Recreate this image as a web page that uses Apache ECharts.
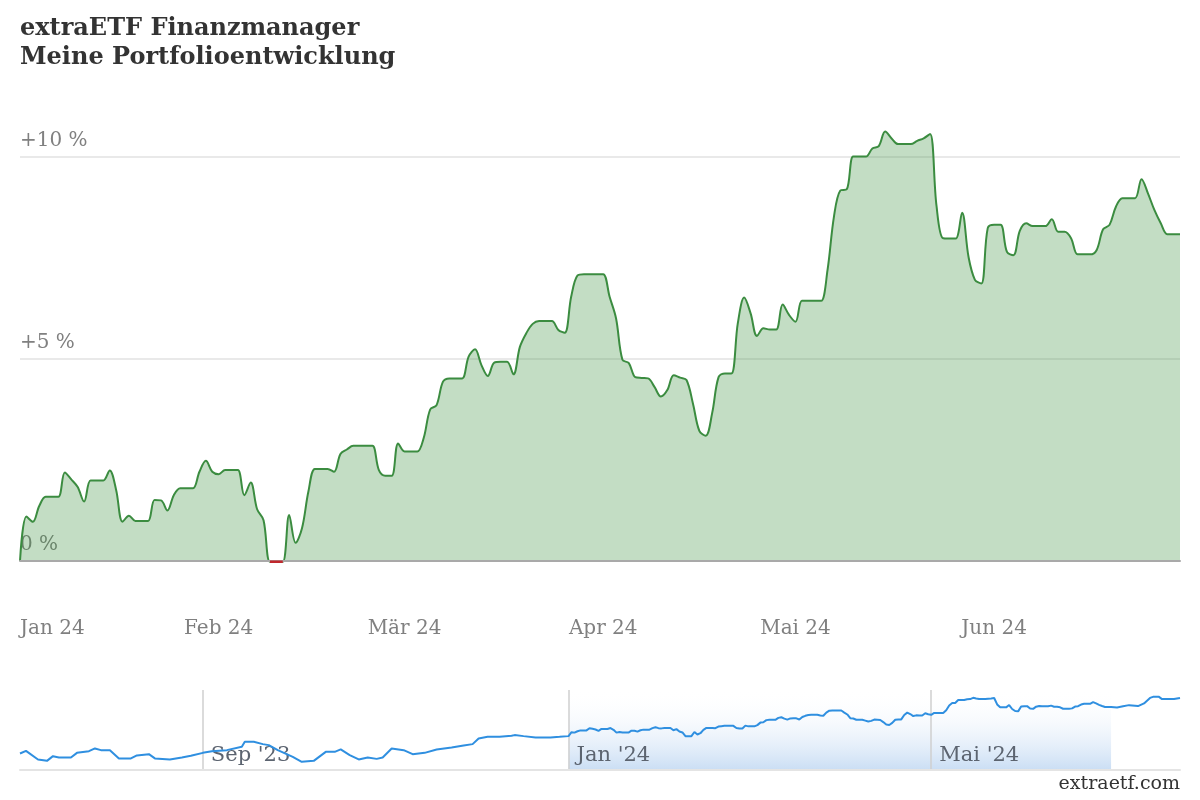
<!DOCTYPE html>
<html>
<head>
<meta charset="utf-8">
<script src="https://cdn.jsdelivr.net/npm/echarts@6/dist/echarts.min.js"></script>
<style>html,body{margin:0;padding:0;background:#fff}#c{width:1200px;height:800px}</style>
</head>
<body>
<div id="c"></div>
<script>
// ---- Main chart: daily performance in % (Jan 1 – Jun 30, 2024) ----
const jan = [0,1.10,0.97,1.36,1.59,1.59,1.59,2.19,2.02,1.83,1.47,1.99,1.99,1.99,2.24,1.76,0.97,1.12,0.99,0.99,0.99,1.51,1.50,1.25,1.63,1.80,1.80,1.80,2.21,2.48,2.21];
const feb = [2.15,2.25,2.25,2.25,1.63,1.94,1.28,1.01,-0.02,-0.02,-0.02,1.14,0.45,0.81,1.72,2.28,2.28,2.28,2.21,2.65,2.76,2.85,2.85,2.85,2.85,2.25,2.11,2.11,2.91];
const mar = [2.71,2.71,2.71,3.05,3.75,3.86,4.44,4.52,4.52,4.52,5.06,5.24,4.85,4.58,4.91,4.93,4.93,4.62,5.30,5.64,5.87,5.94,5.94,5.94,5.72,5.65,6.54,7.07,7.10,7.10,7.10];
const apr = [7.10,6.54,6.01,4.98,4.90,4.55,4.53,4.52,4.31,4.07,4.23,4.60,4.54,4.48,3.90,3.22,3.10,3.66,4.55,4.64,4.64,5.88,6.52,6.13,5.57,5.76,5.73,5.73,6.35,6.09];
const may = [5.92,6.44,6.44,6.44,6.44,7.20,8.52,9.17,9.20,10.01,10.01,10.01,10.21,10.27,10.63,10.46,10.32,10.32,10.32,10.40,10.46,10.57,8.80,7.99,7.98,7.98,8.62,7.53,6.96,6.87,8.24];
const jun = [8.32,8.32,7.65,7.57,8.17,8.36,8.29,8.29,8.29,8.46,8.15,8.15,7.99,7.59,7.59,7.59,7.70,8.21,8.32,8.77,8.98,8.98,8.98,9.45,9.10,8.69,8.36,8.09,8.09,8.09];
const monthValues = [jan, feb, mar, apr, may, jun];

const xTickDates  = ['2024-01-01','2024-02-01','2024-03-01','2024-04-01','2024-05-01','2024-06-01'];
const xTickLabels = ['Jan 24','Feb 24','Mär 24','Apr 24','Mai 24','Jun 24'];
const yTickValues = [0, 5, 10];
const yTickLabels = ['0 %', '+5 %', '+10 %'];

// ---- Navigator: longer history (before and after the selected range) ----
const navPreDates = ['2023-07-02','2023-07-04','2023-07-08','2023-07-11','2023-07-13','2023-07-15','2023-07-19','2023-07-21','2023-07-25','2023-07-27','2023-07-29','2023-08-01','2023-08-04','2023-08-08','2023-08-10','2023-08-14','2023-08-16','2023-08-21','2023-08-25','2023-08-28','2023-09-01','2023-09-04','2023-09-09','2023-09-14','2023-09-15','2023-09-18','2023-09-21','2023-09-23','2023-09-26','2023-10-01','2023-10-04','2023-10-08','2023-10-12','2023-10-15','2023-10-17','2023-10-20','2023-10-23','2023-10-26','2023-10-29','2023-10-31','2023-11-03','2023-11-07','2023-11-10','2023-11-14','2023-11-18','2023-11-23','2023-11-27','2023-11-30','2023-12-02','2023-12-05','2023-12-09','2023-12-13','2023-12-14','2023-12-17','2023-12-21','2023-12-26','2023-12-29'];
const navPreValues = [-4.81,-4.08,-6.47,-6.86,-5.56,-5.92,-5.92,-4.64,-4.17,-3.42,-3.89,-3.89,-6.19,-6.19,-5.36,-5.00,-6.19,-6.47,-5.92,-5.47,-4.64,-4.17,-3.89,-2.97,-1.58,-1.58,-2.22,-2.50,-3.89,-5.75,-7.14,-6.86,-4.36,-4.36,-3.69,-5.28,-6.47,-5.92,-6.31,-5.92,-3.42,-3.89,-5.00,-4.64,-3.69,-3.14,-2.58,-2.22,-0.64,-0.19,-0.19,0.08,0.28,0.00,-0.36,-0.36,-0.19];
const navPostDates = ['2024-07-02','2024-07-04','2024-07-06','2024-07-09','2024-07-11','2024-07-13','2024-07-14','2024-07-16','2024-07-17','2024-07-21','2024-07-23'];
const navPostValues = [7.95,8.30,8.60,8.33,9.08,10.60,10.90,10.90,10.28,10.28,10.60];
const navTickDates  = ['2023-09-01','2024-01-01','2024-05-01'];
const navTickLabels = ["Sep '23","Jan '24","Mai '24"];
const navRange      = ['2023-07-02','2024-07-23'];
const navSelection  = ['2024-01-01','2024-06-30'];

// ---- build data (x as timestamps on a linear value axis) ----
const P = s => +echarts.time.parse(s);
const pad = n => (n < 10 ? '0' : '') + n;
const mainData = [];
monthValues.forEach((vals, mi) => {
  vals.forEach((v, di) => mainData.push([P('2024-' + pad(mi + 1) + '-' + pad(di + 1)), v]));
});
// negative part of the same series, drawn in red
const negData = mainData.map(([t, v]) => [t, v < 0 ? v : null]);
const navData = navPreDates.map((d, i) => [P(d), navPreValues[i]])
  .concat(mainData)
  .concat(navPostDates.map((d, i) => [P(d), navPostValues[i]]));

const xTicks = xTickDates.map(P);
const navTicks = navTickDates.map(P);
const findLabel = (ticks, labels, v) => {
  const i = ticks.findIndex(t => Math.abs(t - v) < 43200000);
  return i >= 0 ? labels[i] : '';
};

const FONT = "'DejaVu Serif', serif";
const chart = echarts.init(document.getElementById('c'), null, {renderer: 'canvas'});
chart.setOption({
  animation: false,
  backgroundColor: '#ffffff',
  title: [
    {
      text: 'extraETF Finanzmanager\nMeine Portfolioentwicklung',
      left: 20, top: 14.5, padding: 0,
      textStyle: {fontFamily: FONT, fontWeight: 'bold', fontSize: 24, lineHeight: 29, color: '#333333'}
    },
    {
      text: 'extraetf.com',
      right: 20, top: 775, padding: 0,
      textStyle: {fontFamily: FONT, fontWeight: 'normal', fontSize: 19, color: '#333333'}
    }
  ],
  grid: [
    {left: 20, right: 20, top: 96.4, bottom: 239, outerBoundsMode: 'none', containLabel: false},
    {left: 20, right: 20, top: 690, bottom: 30, outerBoundsMode: 'none', containLabel: false}
  ],
  xAxis: [
    {
      type: 'value', gridIndex: 0,
      min: xTicks[0], max: P(navSelection[1]),
      z: 3.5,
      axisLine: {show: true, onZero: false, lineStyle: {color: '#a9a9a9', width: 2}},
      axisTick: {show: false, customValues: xTicks},
      splitLine: {show: false},
      axisLabel: {
        customValues: xTicks,
        formatter: v => findLabel(xTicks, xTickLabels, v),
        margin: 58, fontFamily: FONT, fontSize: 20, color: '#808080',
        alignMinLabel: 'left', hideOverlap: false
      }
    },
    {
      type: 'value', gridIndex: 1,
      min: P(navRange[0]), max: P(navRange[1]),
      z: 3,
      axisLine: {show: true, onZero: false, lineStyle: {color: '#e4e4e4', width: 2}},
      axisTick: {show: false, customValues: navTicks},
      splitLine: {show: true, lineStyle: {color: '#cfcfcf', width: 1.5}},
      axisLabel: {
        customValues: navTicks,
        formatter: v => findLabel(navTicks, navTickLabels, v),
        inside: true, align: 'left', padding: [0, 0, 0, 8], margin: 4,
        fontFamily: FONT, fontSize: 21, color: '#5c6470', hideOverlap: false
      }
    }
  ],
  yAxis: [
    {
      type: 'value', gridIndex: 0, min: 0, max: 11.5,
      axisLine: {show: false},
      axisTick: {show: false, customValues: yTickValues},
      splitLine: {show: true, lineStyle: {color: '#e2e2e2', width: 1.5}},
      axisLabel: {
        customValues: yTickValues,
        formatter: v => yTickLabels[yTickValues.indexOf(v)] || '',
        inside: true, margin: 0, align: 'left', verticalAlign: 'bottom', padding: [0, 0, 6, 0],
        fontFamily: FONT, fontSize: 20, color: '#808080'
      }
    },
    {
      type: 'value', gridIndex: 1, min: -9.4, max: 12.8,
      axisLine: {show: false}, axisTick: {show: false},
      axisLabel: {show: false}, splitLine: {show: false}
    }
  ],
  series: [
    {
      type: 'line', xAxisIndex: 0, yAxisIndex: 0,
      data: mainData, showSymbol: false, smooth: 0.35, clip: false,
      lineStyle: {width: 2, color: '#3b8c40'}, itemStyle: {color: '#3b8c40'},
      areaStyle: {color: 'rgba(60,145,65,0.31)', opacity: 1, origin: 0},
      z: 3
    },
    {
      type: 'line', xAxisIndex: 0, yAxisIndex: 0,
      data: negData, showSymbol: false, connectNulls: false, clip: false,
      lineStyle: {width: 2.5, color: '#c0272d'}, itemStyle: {color: '#c0272d'},
      z: 5
    },
    {
      type: 'line', xAxisIndex: 1, yAxisIndex: 1,
      data: navData, showSymbol: false, smooth: false,
      lineStyle: {width: 2, color: '#2f8fe0'}, itemStyle: {color: '#2f8fe0'},
      z: 4,
      markArea: {
        silent: true,
        itemStyle: {
          color: {type: 'linear', x: 0, y: 0, x2: 0, y2: 1,
            colorStops: [{offset: 0, color: 'rgba(255,255,255,0)'}, {offset: 1, color: 'rgba(196,218,243,0.9)'}]}
        },
        data: [[{xAxis: P(navSelection[0])}, {xAxis: P(navSelection[1])}]]
      }
    }
  ]
});
</script>
</body>
</html>
